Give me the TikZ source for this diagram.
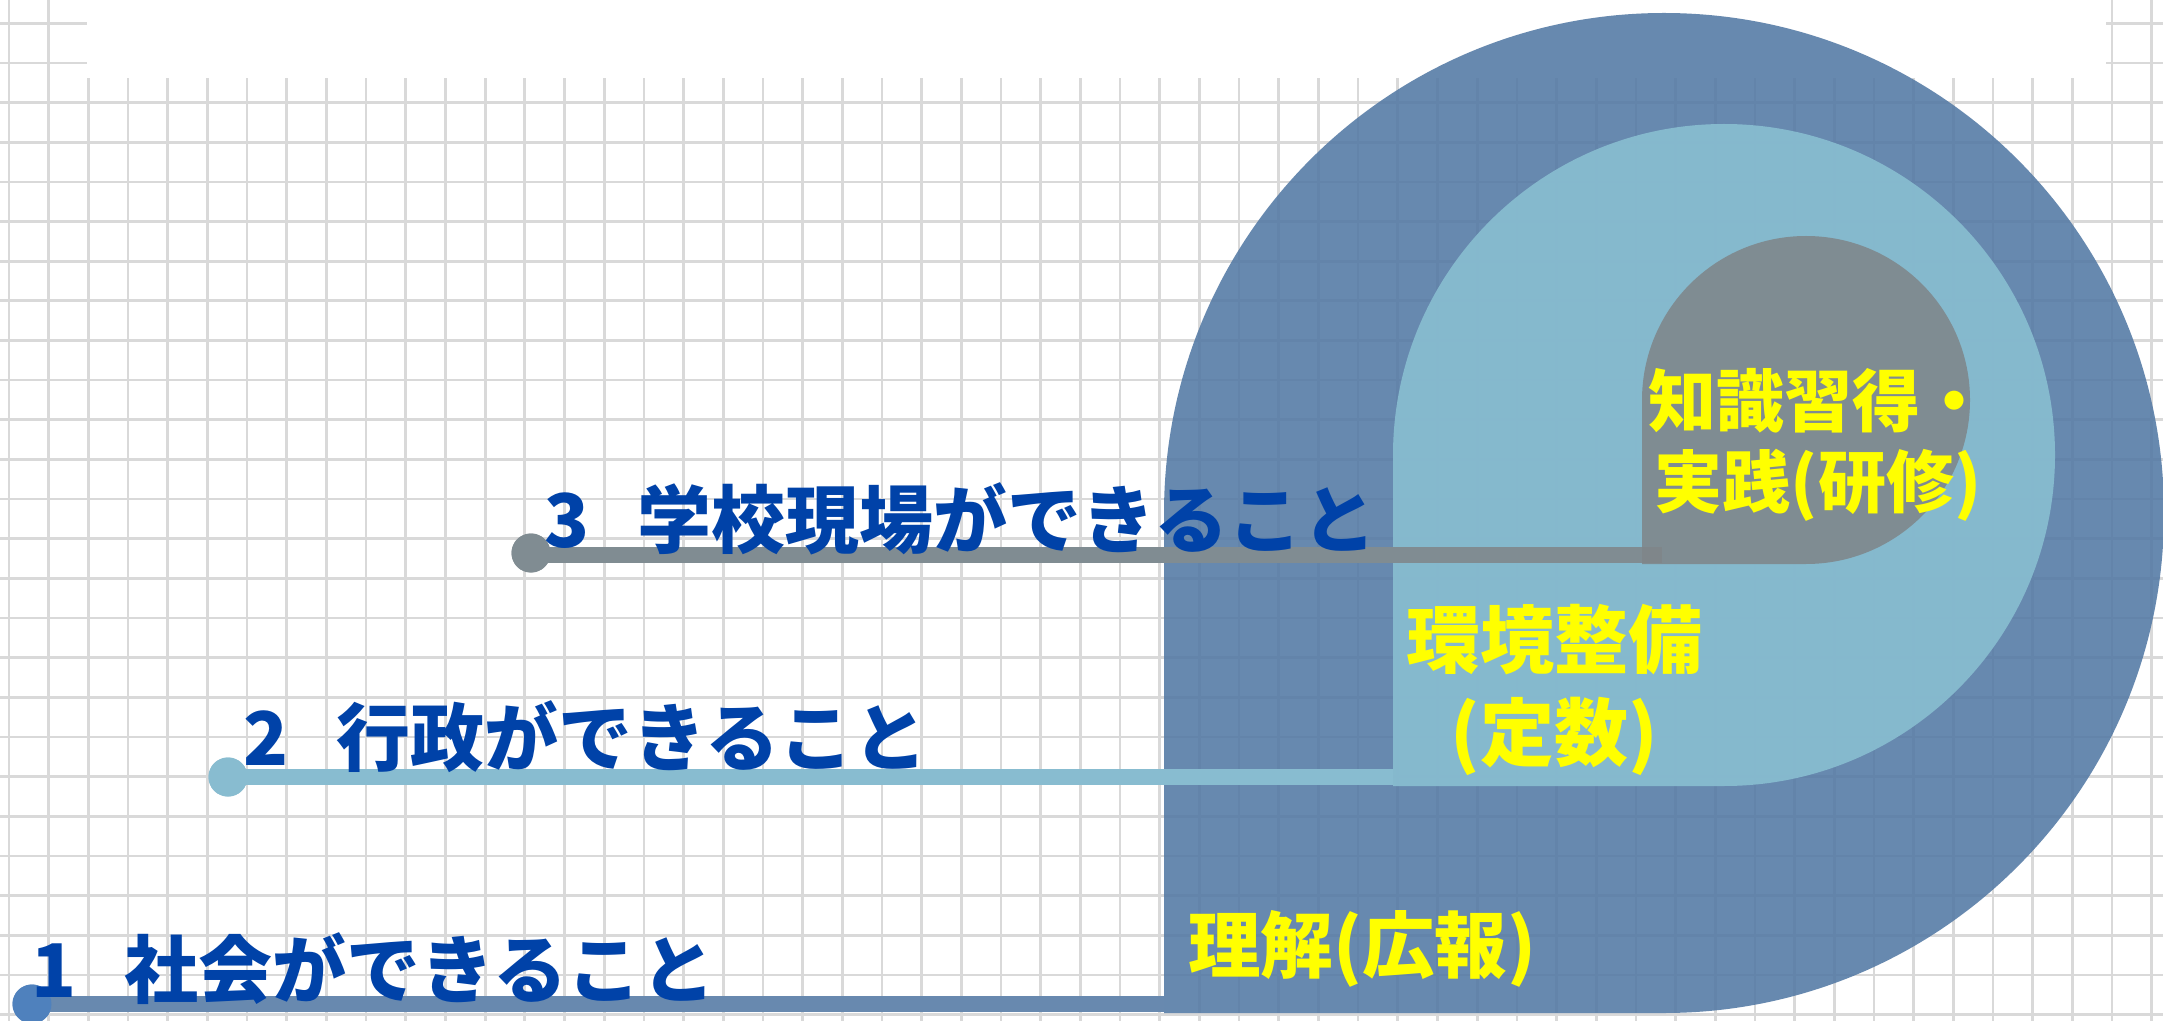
\documentclass[tikz,border=0pt]{standalone}
\usepackage{fontspec}
\newfontfamily\jp{Noto Sans CJK JP}
\definecolor{gridc}{RGB}{217,217,217}
\definecolor{outerc}{RGB}{83,121,164}
\definecolor{midc}{RGB}{138,192,210}
\definecolor{innerc}{RGB}{127,134,138}
\definecolor{lineone}{RGB}{104,137,175}
\definecolor{linetwo}{RGB}{136,188,208}
\definecolor{linethree}{RGB}{128,140,146}
\definecolor{dotone}{RGB}{79,129,189}
\definecolor{jblue}{RGB}{0,66,168}
\definecolor{jyellow}{RGB}{255,255,0}
\tikzset{
  gridline/.style={draw=gridc, line width=1.35pt},
  bar/.style={line width=8pt, line cap=butt},
  dotnode/.style={circle, inner sep=0pt, minimum size=19.5pt},
  bluetext/.style={font=\jp\bfseries\fontsize{37pt}{44pt}\selectfont, text=jblue, inner sep=0pt},
  ytext/.style={text=jyellow, inner sep=0pt, align=center},
  shapefill/.style={fill opacity=0.88}
}
\begin{document}
\begin{tikzpicture}[x=0.5pt,y=-0.5pt]
\useasboundingbox (0,0) rectangle (2163,1021);
\fill[white] (0,0) rectangle (2163,1021);
% grid
\foreach \k in {0,...,54} \draw[gridline] ({9+39.68*\k},0) -- ({9+39.68*\k},1021);
\foreach \k in {0,...,25} \draw[gridline] (0,{23.3+39.65*\k}) -- (2163,{23.3+39.65*\k});
\fill[white] (86.5,0) rectangle (2106,78.5);
% outer shape
\fill[outerc, shapefill] (1164,1013) -- (1164,513) arc[start angle=180, end angle=450, radius=500] -- cycle;
% bullets (named), line ends
\node[dotnode, fill=dotone] (b1) at (32,1004) {};
\node[dotnode, fill=linetwo] (b2) at (228,777) {};
\node[dotnode, fill=linethree] (b3) at (531,553) {};
\coordinate (e1) at (1164,1004);
\coordinate (e2) at (1393,777);
\coordinate (e3) at (1662,555);
% line 1
\draw[bar, draw=lineone] (b1.center) -- (e1);
% middle shape
\fill[midc, shapefill] (1393,786) -- (1393,455) arc[start angle=180, end angle=450, radius=331] -- cycle;
% lines 2, 3
\draw[bar, draw=linetwo] (b2.center) -- (e2);
\draw[bar, draw=linethree] (b3.center |- e3) -- (e3);
% inner shape
\fill[innerc, shapefill] (1642,564) -- (1642,400) arc[start angle=180, end angle=450, radius=164] -- cycle;
% bullets on top
\node[dotnode, fill=dotone] at (b1) {};
\node[dotnode, fill=linetwo] at (b2) {};
\node[dotnode, fill=linethree] at (b3) {};
% blue texts
\node[bluetext, anchor=base west] (t1) at (31,997) {1\hspace{0.65em}社会ができること};
\node[bluetext, anchor=base west] (t2) at (243,765) {2\hspace{0.65em}行政ができること};
\node[bluetext, anchor=base west] (t3) at (544,547) {3\hspace{0.65em}学校現場ができること};
% yellow texts
\node[ytext, font=\jp\bfseries\fontsize{36.25pt}{44pt}\selectfont, anchor=base] (y1) at (1362,972) {理解(広報)};
\node[ytext, font=\jp\bfseries\fontsize{37pt}{46.5pt}\selectfont, anchor=base] (y2) at (1554,760) {環境整備\\(定数)};
\node[ytext, font=\jp\bfseries\fontsize{34pt}{40.5pt}\selectfont, anchor=base] (y3) at (1818,508) {知識習得・\\実践(研修)};
\end{tikzpicture}
\end{document}
